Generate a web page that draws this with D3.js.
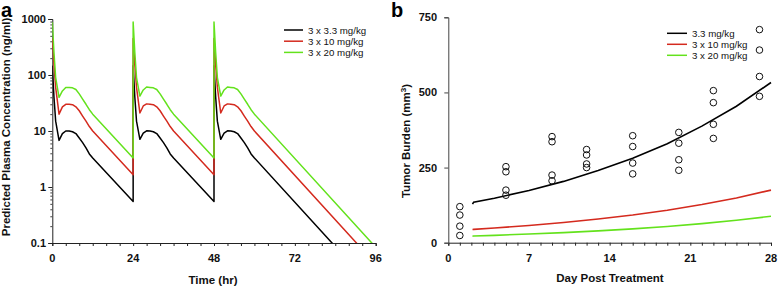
<!DOCTYPE html>
<html lang="en">
<head>
    <meta charset="UTF-8">
    <title>Plasma concentration and tumor burden</title>
    <script src="https://d3js.org/d3.v7.min.js"></script>
    <style>
        body { margin: 0; background: white; }
        text { font-family: "Liberation Sans", Arial, sans-serif; }
        .tick-label { font-size: 11px; font-weight: bold; fill: #111; }
        .axis-title { font-size: 11.5px; font-weight: bold; fill: #111; }
        .legend-text { font-size: 9.7px; fill: #111; }
        .panel-label { font-size: 20px; font-weight: bold; }
    </style>
</head>
<body>
    <svg id="chart" width="778" height="286"></svg>
    <script>
        // Panel a: predicted plasma concentration (ng/ml) vs time (hr)
        const pkHours = [0, 0.5, 1, 2, 3, 4, 5, 6, 7, 8, 9, 10, 11, 12, 24,
                         24, 24.5, 25, 26, 27, 28, 29, 30, 31, 32, 33, 34, 35, 36, 48,
                         48, 48.5, 49, 50, 51, 52, 53, 54, 55, 56, 57, 58, 59, 60, 96];
        const pkLow = [147, 40, 15, 6.8, 9, 10, 10, 9.7, 9, 7.5, 6.2, 5, 3.9, 3.3, 0.55,
                       147, 40, 15, 7.1, 9.2, 10.1, 10, 9.7, 9, 7.5, 6.2, 5, 3.9, 3.3, 0.55,
                       147, 40, 15, 7.1, 9.2, 10.1, 10, 9.7, 9, 7.5, 6.2, 5, 3.9, 3.3, 0.014];
        const pkMid = [450, 150, 60, 20, 27, 30, 30, 29.5, 27, 23, 18.5, 15, 12, 10, 1.65,
                       450, 150, 60, 21, 28, 30.5, 30, 29.5, 27, 23, 18.5, 15, 12, 10, 1.65,
                       450, 150, 60, 21, 28, 30.5, 30, 29.5, 27, 23, 18.5, 15, 12, 10, 0.042];
        const pkHigh = [880, 250, 90, 40, 52, 60, 60, 59, 55, 46, 37, 30, 24, 20, 3.3,
                        880, 250, 90, 42, 54, 61, 60, 59, 55, 46, 37, 30, 24, 20, 3.3,
                        880, 250, 90, 42, 54, 61, 60, 59, 55, 46, 37, 30, 24, 20, 0.084];
        const pkLabels = ["3 x 3.3 mg/kg", "3 x 10 mg/kg", "3 x 20 mg/kg"];
        const pkTicksX = [0, 24, 48, 72, 96];
        const pkTicksY = [0.1, 1, 10, 100, 1000];

        // Panel b: tumor burden (mm3) vs day post treatment
        const obsDay = [1, 1, 1, 1, 5, 5, 5, 5, 9, 9, 9, 9, 12, 12, 12, 12,
                        16, 16, 16, 16, 20, 20, 20, 20, 23, 23, 23, 23, 27, 27, 27, 27];
        const obsTumor = [120, 92, 55, 24, 253, 236, 175, 158, 353, 336, 225, 206,
                          310, 292, 262, 250, 356, 320, 265, 229, 367, 331, 276, 241,
                          506, 466, 394, 347, 709, 641, 553, 487];
        const fitDay = [2.1, 2.2, 4, 7, 10, 13, 16, 19, 22, 25, 28];
        const fitLow = [128, 135, 148, 174, 204, 240, 281, 329, 388, 454, 533];
        const fitMid = [44, 44.3, 49, 57, 67, 79, 92, 108, 127, 149, 175];
        const fitHigh = [22, 22.1, 24.5, 29, 33.5, 39.5, 46, 54, 63.5, 74.5, 88];
        const tgLabels = ["3.3 mg/kg", "3 x 10 mg/kg", "3 x 20 mg/kg"];
        const tgTicksX = [0, 7, 14, 21, 28];
        const tgTicksY = [0, 250, 500, 750];

        const colors = ["#000000", "#d42a1e", "#63e21c"];

        const svg = d3.select("#chart");

        // ---------- panel a ----------
        const xa = d3.scaleLinear().domain([0, 96]).range([52.3, 375.7]);
        const ya = d3.scaleLog().domain([0.1, 1000]).range([243, 19]);

        const ga = svg.append("g");

        ga.append("clipPath").attr("id", "clipA")
            .append("rect")
            .attr("x", xa(0)).attr("y", ya(1000) - 2)
            .attr("width", xa(96) - xa(0)).attr("height", ya(0.1) - ya(1000) + 2);

        // x axis
        const axA = ga.append("g").attr("transform", `translate(0,${ya(0.1)})`)
            .call(d3.axisBottom(xa).tickValues(d3.range(0, 97, 4)).tickSize(3).tickFormat(""));
        axA.select(".domain").attr("stroke", "#222");
        axA.selectAll(".tick line").attr("stroke", "#222");
        ga.selectAll(".xlab-a").data(pkTicksX).enter().append("text")
            .attr("class", "tick-label")
            .attr("x", d => xa(d)).attr("y", 262)
            .attr("text-anchor", "middle")
            .text(d => d);

        // y axis (log)
        const minorY = [];
        pkTicksY.slice(0, -1).forEach(p => d3.range(2, 10).forEach(k => minorY.push(p * k)));
        const ayA = ga.append("g").attr("transform", `translate(${xa(0)},0)`)
            .call(d3.axisLeft(ya).tickValues(pkTicksY).tickSize(4).tickFormat(""));
        ayA.select(".domain").attr("stroke", "#222");
        ayA.selectAll(".tick line").attr("stroke", "#222");
        ga.append("g").attr("transform", `translate(${xa(0)},0)`)
            .call(d3.axisLeft(ya).tickValues(minorY).tickSize(2).tickFormat(""))
            .call(g => g.select(".domain").remove())
            .selectAll(".tick line").attr("stroke", "#444");
        ga.selectAll(".ylab-a").data(pkTicksY).enter().append("text")
            .attr("class", "tick-label")
            .attr("x", 46).attr("y", d => ya(d) + 4)
            .attr("text-anchor", "end")
            .text(d => d);

        const lineA = d3.line()
            .x((d, i) => xa(pkHours[i]))
            .y(d => ya(d));
        [pkLow, pkMid, pkHigh].forEach((series, i) => {
            ga.append("path")
                .attr("clip-path", "url(#clipA)")
                .attr("d", lineA(series))
                .attr("fill", "none")
                .attr("stroke", colors[i])
                .attr("stroke-width", 1.5)
                .attr("stroke-linejoin", "round");
        });

        // legend a
        pkLabels.forEach((lab, i) => {
            const yy = 30 + i * 11.2;
            ga.append("line").attr("x1", 284).attr("x2", 303).attr("y1", yy).attr("y2", yy)
                .attr("stroke", colors[i]).attr("stroke-width", 1.5);
            ga.append("text").attr("class", "legend-text")
                .attr("x", 308).attr("y", yy + 3.5).text(lab);
        });

        ga.append("text").attr("class", "axis-title")
            .attr("x", 213).attr("y", 284).attr("text-anchor", "middle")
            .text("Time (hr)");
        ga.append("text").attr("class", "axis-title")
            .attr("transform", "translate(10,127) rotate(-90)")
            .attr("text-anchor", "middle")
            .text("Predicted Plasma Concentration (ng/ml)");
        ga.append("text").attr("class", "panel-label")
            .attr("x", 1).attr("y", 17).text("a");

        // ---------- panel b ----------
        const xb = d3.scaleLinear().domain([0, 28]).range([448.3, 771]);
        const yb = d3.scaleLinear().domain([0, 750]).range([242.7, 17.3]);

        const gb = svg.append("g");

        const axB = gb.append("g").attr("transform", `translate(0,${yb(0)})`)
            .call(d3.axisBottom(xb).tickValues(d3.range(0, 29, 1)).tickSize(3).tickFormat(""));
        axB.select(".domain").attr("stroke", "#222");
        axB.selectAll(".tick line").attr("stroke", "#222");
        gb.selectAll(".xlab-b").data(tgTicksX).enter().append("text")
            .attr("class", "tick-label")
            .attr("x", d => xb(d)).attr("y", 262)
            .attr("text-anchor", "middle")
            .text(d => d);

        const ayB = gb.append("g").attr("transform", `translate(${xb(0)},0)`)
            .call(d3.axisLeft(yb).tickValues(tgTicksY).tickSize(4).tickFormat(""));
        ayB.select(".domain").attr("stroke", "#444");
        ayB.selectAll(".tick line").attr("stroke", "#444");
        gb.selectAll(".ylab-b").data(tgTicksY).enter().append("text")
            .attr("class", "tick-label")
            .attr("x", 437).attr("y", d => yb(d) + 4)
            .attr("text-anchor", "end")
            .text(d => d);

        const lineB = d3.line()
            .x((d, i) => xb(fitDay[i]))
            .y(d => yb(d));
        [fitLow, fitMid, fitHigh].forEach((series, i) => {
            gb.append("path")
                .attr("d", lineB(series))
                .attr("fill", "none")
                .attr("stroke", colors[i])
                .attr("stroke-width", 1.6);
        });

        gb.selectAll(".obs").data(obsTumor).enter().append("circle")
            .attr("cx", (d, i) => xb(obsDay[i]))
            .attr("cy", d => yb(d))
            .attr("r", 3.3)
            .attr("fill", "none")
            .attr("stroke", "#111")
            .attr("stroke-width", 1);

        tgLabels.forEach((lab, i) => {
            const yy = 33.3 + i * 11;
            gb.append("line").attr("x1", 667).attr("x2", 687).attr("y1", yy).attr("y2", yy)
                .attr("stroke", colors[i]).attr("stroke-width", 1.5);
            gb.append("text").attr("class", "legend-text")
                .attr("x", 692).attr("y", yy + 3.5).text(lab);
        });

        gb.append("text").attr("class", "axis-title")
            .attr("x", 610).attr("y", 282).attr("text-anchor", "middle")
            .text("Day Post Treatment");
        const yt = gb.append("text").attr("class", "axis-title")
            .attr("transform", "translate(410,141) rotate(-90)")
            .attr("text-anchor", "middle");
        yt.append("tspan").text("Tumor Burden (mm");
        yt.append("tspan").attr("dy", -4).attr("font-size", "8px").text("3");
        yt.append("tspan").attr("dy", 4).text(")");
        gb.append("text").attr("class", "panel-label")
            .attr("x", 391).attr("y", 17).text("b");
    </script>
</body>
</html>
